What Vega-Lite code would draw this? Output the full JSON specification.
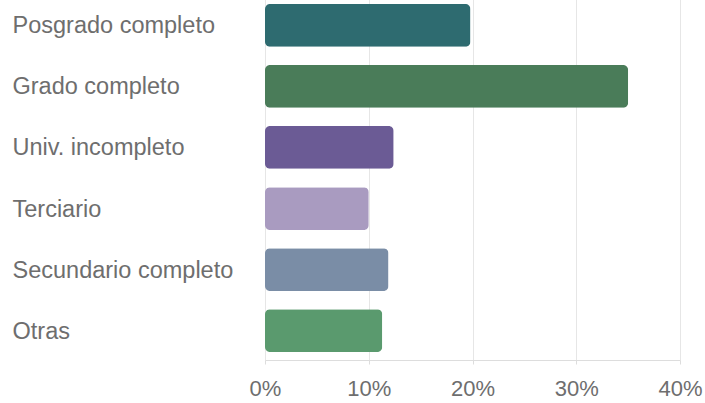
{
  "$schema": "https://vega.github.io/schema/vega-lite/v6.json",
  "width": 415,
  "height": 364,
  "autosize": {"type": "none"},
  "padding": {"left": 265, "top": -4, "right": 25, "bottom": 43},
  "background": "white",
  "data": {
    "values": [
      {"nivel": "Posgrado completo", "pct": 0.198, "color": "#2E6B70"},
      {"nivel": "Grado completo", "pct": 0.35, "color": "#4A7C59"},
      {"nivel": "Univ. incompleto", "pct": 0.124, "color": "#6B5B95"},
      {"nivel": "Terciario", "pct": 0.10, "color": "#A99BC0"},
      {"nivel": "Secundario completo", "pct": 0.119, "color": "#7A8DA6"},
      {"nivel": "Otras", "pct": 0.113, "color": "#5A9A6E"}
    ]
  },
  "mark": {"type": "bar", "cornerRadius": 5},
  "encoding": {
    "y": {
      "field": "nivel",
      "type": "nominal",
      "sort": null,
      "title": null,
      "scale": {"paddingInner": 0.3, "paddingOuter": 0.13},
      "axis": {
        "ticks": false,
        "domain": false,
        "labelAlign": "left",
        "labelPadding": 253,
        "labelOffset": 1,
        "labelFont": "Liberation Sans",
        "labelFontSize": 23.5,
        "labelColor": "#6e6e6e",
        "labelLimit": 300
      }
    },
    "x": {
      "field": "pct",
      "type": "quantitative",
      "title": null,
      "scale": {"domain": [0, 0.4], "nice": false},
      "axis": {
        "format": ".0%",
        "values": [0, 0.1, 0.2, 0.3, 0.4],
        "labelFont": "Liberation Sans",
        "labelFontSize": 22,
        "labelColor": "#6e6e6e",
        "labelPadding": 14,
        "tickSize": 4,
        "tickColor": "#dddddd",
        "domainColor": "#dddddd",
        "gridColor": "#e6e6e6",
        "labelFlush": false
      }
    },
    "color": {"field": "color", "type": "nominal", "scale": null, "legend": null}
  },
  "config": {"view": {"stroke": null}}
}
